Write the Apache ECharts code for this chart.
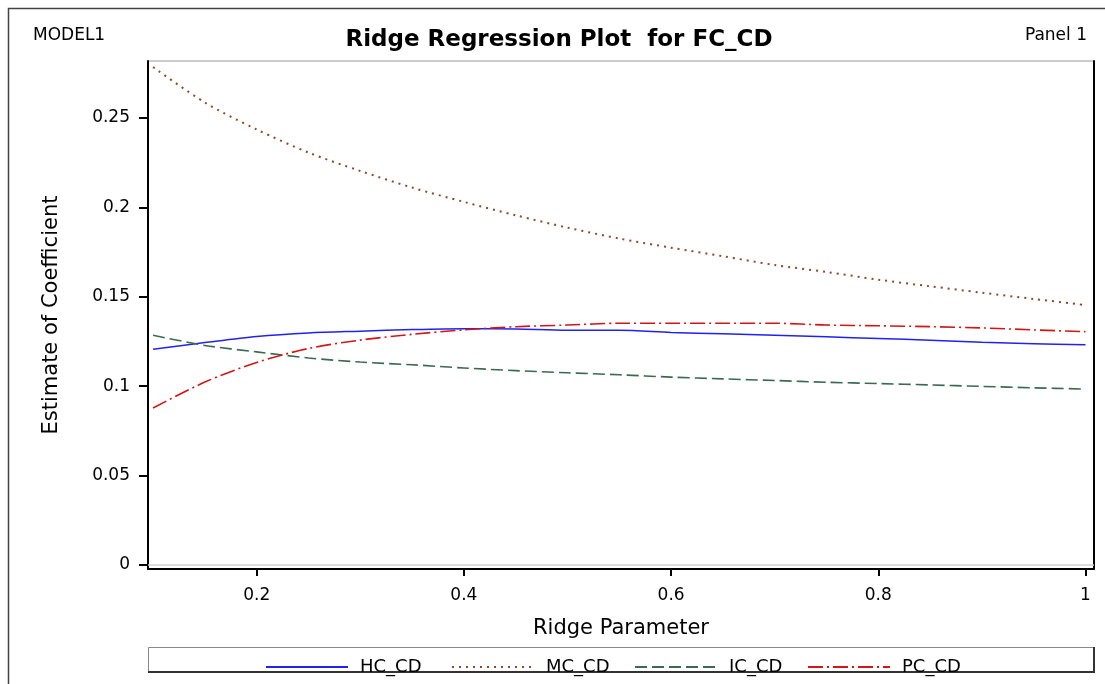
<!DOCTYPE html>
<html>
<head>
<meta charset="utf-8">
<script src="https://cdn.jsdelivr.net/npm/echarts@6/dist/echarts.min.js"></script>
<style>
  html, body { margin: 0; padding: 0; background: #fff; }
  #main { width: 1105px; height: 684px; }
</style>
</head>
<body>
<div id="main"></div>
<script>
// ridge parameter values (x)
var ridgeK = [0.10, 0.15, 0.20, 0.25, 0.30, 0.35, 0.40, 0.45, 0.50, 0.55,
              0.60, 0.65, 0.70, 0.75, 0.80, 0.85, 0.90, 0.95, 1.00];
// estimates
var hcCD = [0.1207, 0.1244, 0.1278, 0.1298, 0.1308, 0.1317, 0.1322, 0.1320, 0.1313, 0.1313,
            0.1301, 0.1293, 0.1285, 0.1276, 0.1267, 0.1257, 0.1246, 0.1238, 0.1232];
var mcCD = [0.2785, 0.2587, 0.2436, 0.2307, 0.2204, 0.2111, 0.2031, 0.1956, 0.1887, 0.1826,
            0.1775, 0.1727, 0.1678, 0.1639, 0.1596, 0.1559, 0.1523, 0.1488, 0.1454];
var icCD = [0.1285, 0.1228, 0.1192, 0.1158, 0.1135, 0.1120, 0.1102, 0.1087, 0.1075, 0.1064,
            0.1051, 0.1041, 0.1032, 0.1022, 0.1015, 0.1007, 0.0999, 0.0991, 0.0984];
var pcCD = [0.0878, 0.1023, 0.1133, 0.1211, 0.1258, 0.1290, 0.1315, 0.1333, 0.1342, 0.1352,
            0.1352, 0.1352, 0.1352, 0.1342, 0.1338, 0.1333, 0.1326, 0.1315, 0.1305];
var xTicks = [0.2, 0.4, 0.6, 0.8, 1];
var yTicks = [0, 0.05, 0.1, 0.15, 0.2, 0.25];

var FONT = 'DejaVu Sans';

function pairs(ys) {
    return ridgeK.map(function (k, i) { return [k, ys[i]]; });
}

var chart = echarts.init(document.getElementById('main'));

var option = {
    animation: false,
    backgroundColor: '#fff',
    grid: {
        left: 148, top: 61, right: 11, bottom: 115,
        show: true,
        borderColor: '#999',
        borderWidth: 1
    },
    xAxis: {
        type: 'value',
        min: 0.0951,
        max: 1.0082,
        name: 'Ridge Parameter',
        nameLocation: 'middle',
        nameGap: 49,
        nameTextStyle: { fontFamily: FONT, fontSize: 21, color: '#000' },
        axisLine: { show: true, onZero: false, lineStyle: { color: '#000', width: 2 } },
        axisTick: { show: true, length: 7, customValues: xTicks, lineStyle: { color: '#000', width: 2 } },
        axisLabel: { customValues: xTicks, margin: 18, fontFamily: FONT, fontSize: 17, color: '#000' },
        splitLine: { show: false }
    },
    yAxis: [
        {
            type: 'value',
            min: -0.00224,
            max: 0.2819,
            name: 'Estimate of Coefficient',
            nameLocation: 'middle',
            nameGap: 86,
            nameTextStyle: { fontFamily: FONT, fontSize: 21, color: '#000' },
            axisLine: { show: true, onZero: false, lineStyle: { color: '#000', width: 2 } },
            axisTick: { show: true, length: 9, customValues: yTicks, lineStyle: { color: '#000', width: 2 } },
            axisLabel: { customValues: yTicks, margin: 18, fontFamily: FONT, fontSize: 17, color: '#000' },
            splitLine: { show: false }
        },
        {
            // right frame line only
            type: 'value',
            position: 'right',
            min: -0.00224,
            max: 0.2819,
            axisLine: { show: true, onZero: false, lineStyle: { color: '#000', width: 2 } },
            axisTick: { show: false },
            axisLabel: { show: false },
            splitLine: { show: false }
        }
    ],
    legend: [
        { name: 'HC_CD', left: 260 },
        { name: 'MC_CD', left: 446 },
        { name: 'IC_CD', left: 629 },
        { name: 'PC_CD', left: 802 }
    ].map(function (l) {
        return {
            data: [l.name],
            left: l.left,
            top: 653,
            itemWidth: 82,
            itemHeight: 14,
            itemStyle: { color: 'transparent', borderWidth: 0, opacity: 0 },
            textStyle: { fontFamily: FONT, fontSize: 18, color: '#000', padding: [0, 0, 0, 7] },
            selectedMode: false
        };
    }),
    graphic: [
        { type: 'rect', shape: { x: 8.5, y: 8.5, width: 1200, height: 800 },
          style: { fill: null, stroke: '#444', lineWidth: 1.5 }, silent: true },
        { type: 'rect', shape: { x: 148.5, y: 647.5, width: 945, height: 24 },
          style: { fill: null, stroke: '#888', lineWidth: 1 }, silent: true },
        { type: 'polyline', shape: { points: [[148, 672], [1094, 672], [1094, 647]] },
          style: { fill: null, stroke: '#333', lineWidth: 2 }, silent: true },
        { type: 'text', x: 33, y: 36,
          style: { text: 'MODEL1', font: '17px "DejaVu Sans"', fill: '#000', textVerticalAlign: 'middle' } },
        { type: 'text', x: 1087, y: 36,
          style: { text: 'Panel 1', font: '17px "DejaVu Sans"', fill: '#000', textAlign: 'right', textVerticalAlign: 'middle' } },
        { type: 'text', x: 559, y: 40,
          style: { text: 'Ridge Regression Plot  for FC_CD', font: 'bold 23px "DejaVu Sans"', fill: '#000',
                   textAlign: 'center', textVerticalAlign: 'middle' } }
    ],
    series: [
        {
            name: 'HC_CD', type: 'line', data: pairs(hcCD), smooth: 0.3,
            symbol: 'none', color: '#2222ee',
            lineStyle: { color: '#2222ee', width: 1.5, type: 'solid' },
            markLine: {
                silent: true, symbol: 'none', label: { show: false },
                lineStyle: { color: '#d0d0d0', width: 1.5, type: 'solid' },
                data: [{ yAxis: 0 }]
            }
        },
        {
            name: 'MC_CD', type: 'line', data: pairs(mcCD), smooth: 0.3,
            symbol: 'none', color: '#8b4a28',
            lineStyle: { color: '#8b4a28', width: 2, type: [2, 5] }
        },
        {
            name: 'IC_CD', type: 'line', data: pairs(icCD), smooth: 0.3,
            symbol: 'none', color: '#3a6a50',
            lineStyle: { color: '#3a6a50', width: 1.6, type: [12, 5] }
        },
        {
            name: 'PC_CD', type: 'line', data: pairs(pcCD), smooth: 0.3,
            symbol: 'none', color: '#d41515',
            lineStyle: { color: '#d41515', width: 1.6, type: [15, 4, 2, 4] }
        }
    ]
};

chart.setOption(option);
</script>
</body>
</html>
